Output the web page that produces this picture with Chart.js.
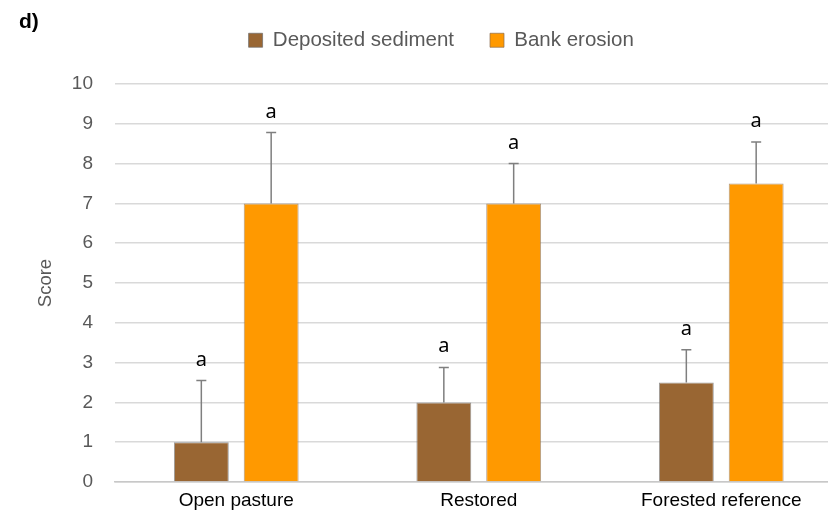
<!DOCTYPE html>
<html>
<head>
<meta charset="utf-8">
<script src="https://cdn.jsdelivr.net/npm/chart.js@4"></script>
<style>
  body { margin: 0; overflow: hidden; background: #fff; }
  #wrap { width: 884px; height: 513px; }
</style>
</head>
<body>
<div id="wrap"><canvas id="chart" width="884" height="513"></canvas></div>
<script>
// data
var categories = ["Open pasture", "Restored", "Forested reference"];
var sediment = [1, 2, 2.5];
var sedimentErr = [1.55, 0.88, 0.82];
var erosion = [7, 7, 7.5];
var erosionErr = [1.78, 1.0, 1.04];
var sedimentLetters = ["a", "a", "a"];
var erosionLetters = ["a", "a", "a"];
var yTicks = [0, 1, 2, 3, 4, 5, 6, 7, 8, 9, 10];

var grey = "#595959";

//Desenha as barras de erro e as letras acima delas
var errorBars = {
  id: "errorBars",
  afterDatasetsDraw(chart) {
    var ctx = chart.ctx;
    var y = chart.scales.y;
    chart.data.datasets.forEach(function (ds, i) {
      var meta = chart.getDatasetMeta(i);
      meta.data.forEach(function (bar, j) {
        var top = y.getPixelForValue(ds.data[j] + ds.errors[j]);
        ctx.save();
        ctx.strokeStyle = "#7f7f7f";
        ctx.lineWidth = 1.5;
        ctx.beginPath();
        ctx.moveTo(bar.x, bar.y);
        ctx.lineTo(bar.x, top);
        ctx.moveTo(bar.x - 5, top);
        ctx.lineTo(bar.x + 5, top);
        ctx.stroke();
        ctx.fillStyle = "#000";
        ctx.font = "20px 'Noto Sans'";
        ctx.textAlign = "center";
        ctx.textBaseline = "alphabetic";
        ctx.fillText(ds.letters[j], bar.x, top - 15);
        ctx.restore();
      });
    });
  },
};

//Rótulo do painel
var panelLabel = {
  id: "panelLabel",
  afterDraw(chart) {
    var ctx = chart.ctx;
    ctx.save();
    ctx.fillStyle = "#000";
    ctx.font = "bold 21px 'Liberation Sans'";
    ctx.textBaseline = "middle";
    ctx.fillText("d)", 19, 22);
    ctx.restore();
  },
};

//Altura fixa para a legenda e deslocamento para a posição do original
var legendPlace = {
  id: "legendPlace",
  beforeInit(chart) {
    var fit = chart.legend.fit;
    chart.legend.fit = function () {
      fit.bind(chart.legend)();
      this.height = 84;
    };
  },
  afterLayout(chart) {
    var lg = chart.legend;
    lg.left += 20;
    lg.right += 20;
    lg.top -= 6;
    lg.bottom -= 6;
  },
};

var ctx = document.getElementById("chart").getContext("2d");
var myChart = new Chart(ctx, {
  type: "bar",
  data: {
    labels: categories,
    datasets: [
      {
        label: "Deposited sediment",
        data: sediment,
        errors: sedimentErr,
        letters: sedimentLetters,
        backgroundColor: "#996633",
        borderColor: "rgba(110,110,110,0.7)",
        borderWidth: 1,
      },
      {
        label: "Bank erosion",
        data: erosion,
        errors: erosionErr,
        letters: erosionLetters,
        backgroundColor: "#ff9900",
        borderColor: "rgba(140,110,80,0.7)",
        borderWidth: 1,
      },
    ],
  },
  options: {
    responsive: false,
    animation: false,
    categoryPercentage: 0.576,
    barPercentage: 0.786,
    layout: {
      padding: { top: 0, left: 0, right: 41.5, bottom: 0 },
    },
    plugins: {
      legend: {
        position: "top",
        labels: {
          boxWidth: 14,
          boxHeight: 14,
          padding: 36,
          color: grey,
          font: { family: "'Liberation Sans'", size: 20.5 },
        },
      },
      tooltip: { enabled: false },
    },
    scales: {
      x: {
        grid: { display: false, drawTicks: false },
        border: { display: true, color: "#c8c8c8", width: 1.5 },
        ticks: {
          color: "#000",
          padding: 9,
          font: { family: "'Liberation Sans'", size: 19, lineHeight: 1 },
        },
        afterFit(scale) {
          scale.height = 31;
        },
      },
      y: {
        min: 0,
        max: 10,
        afterBuildTicks(scale) {
          scale.ticks = yTicks.map(function (v) { return { value: v }; });
        },
        grid: {
          color: "#d9d9d9",
          lineWidth: 1.5,
          drawTicks: true,
          tickLength: 18,
          tickColor: "rgba(0,0,0,0)",
        },
        border: { display: false },
        ticks: {
          color: grey,
          padding: 4,
          font: { family: "'Liberation Sans'", size: 19 },
        },
        title: {
          display: true,
          text: "Score",
          color: grey,
          padding: { top: 35, bottom: 0 },
          font: { family: "'Liberation Sans'", size: 18.5 },
        },
        afterFit(scale) {
          scale.width = 115;
        },
      },
    },
  },
  plugins: [errorBars, panelLabel, legendPlace],
});
</script>
</body>
</html>
